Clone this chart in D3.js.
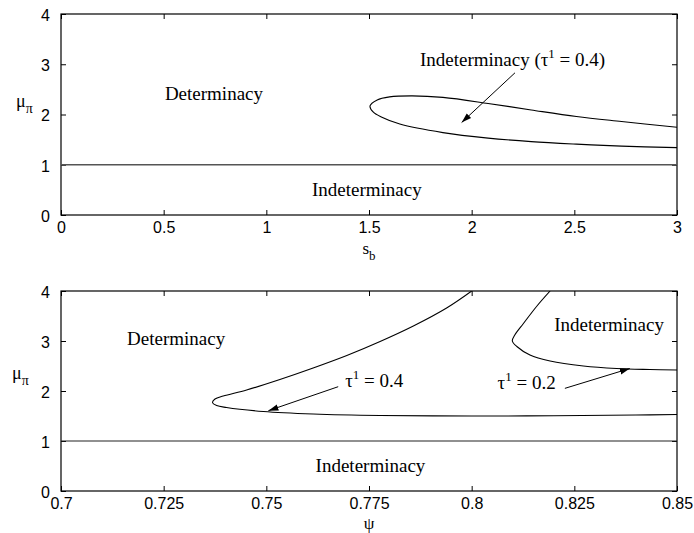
<!DOCTYPE html>
<html>
<head>
<meta charset="utf-8">
<script src="https://cdn.jsdelivr.net/npm/d3@7"></script>
<style>
  html, body { margin: 0; padding: 0; background: #fff; }
  svg { display: block; }
  .tick text { font-family: "Liberation Sans", Arial, sans-serif; font-size: 16px; fill: #000; }
  .ann { font-family: "Liberation Serif", "Times New Roman", serif; font-size: 19px; fill: #000; }
</style>
</head>
<body>
<svg id="chart" width="694" height="533"></svg>
<script>
// ---------- data ----------
const yTicks = [0, 1, 2, 3, 4];
const yTickLabels = ["0", "1", "2", "3", "4"];

// top panel: s_b on x
const topXTicks = [0, 0.5, 1, 1.5, 2, 2.5, 3];
const topXTickLabels = ["0", "0.5", "1", "1.5", "2", "2.5", "3"];
// loop boundary (tau^1 = 0.4): upper branch from right to tip, then lower branch back to right
const topLoopSb = [3.0, 2.73, 2.51, 2.29, 2.08, 1.86, 1.71, 1.60, 1.54, 1.505, 1.52, 1.56, 1.65, 1.86, 2.08, 2.29, 2.51, 2.73, 3.0];
const topLoopMu = [1.745, 1.86, 1.96, 2.09, 2.22, 2.34, 2.37, 2.35, 2.29, 2.17, 2.05, 1.95, 1.81, 1.64, 1.53, 1.46, 1.41, 1.37, 1.34];

// bottom panel: psi on x
const botXTicks = [0.7, 0.725, 0.75, 0.775, 0.8, 0.825, 0.85];
const botXTickLabels = ["0.7", "0.725", "0.75", "0.775", "0.8", "0.825", "0.85"];
// tau^1 = 0.4 boundary
const tau04Psi = [0.8, 0.7939, 0.7858, 0.7777, 0.7696, 0.7614, 0.7533, 0.7452, 0.7395, 0.7375, 0.7369, 0.7379, 0.7403, 0.7493, 0.7614, 0.7777, 0.80, 0.82, 0.84, 0.85];
const tau04Mu  = [4.0, 3.66, 3.30, 2.99, 2.71, 2.46, 2.23, 2.02, 1.90, 1.84, 1.77, 1.71, 1.67, 1.59, 1.54, 1.51, 1.50, 1.505, 1.52, 1.53];
// tau^1 = 0.2 boundary
const tau02Psi = [0.8191, 0.8158, 0.8126, 0.8105, 0.8099, 0.811, 0.8142, 0.8191, 0.8272, 0.8353, 0.8434, 0.85];
const tau02Mu  = [4.0, 3.69, 3.35, 3.12, 3.0, 2.89, 2.72, 2.60, 2.50, 2.45, 2.43, 2.42];

// determinacy boundary mu_pi = 1
const boundaryMu = 1;

// ---------- drawing ----------
const svg = d3.select("#chart");
const tickLen = 5;

function panel(cfg) {
  const { left, right, top, bottom, xDomain, xTicks, xLabels, id } = cfg;
  const x = d3.scaleLinear().domain(xDomain).range([left, right]);
  const y = d3.scaleLinear().domain([0, 4]).range([bottom, top]);
  const g = svg.append("g");

  g.append("clipPath").attr("id", id).append("rect")
    .attr("x", left).attr("y", top).attr("width", right - left).attr("height", bottom - top);

  const ax = g.append("g").attr("transform", `translate(0,${bottom})`)
    .call(d3.axisBottom(x).tickValues(xTicks).tickFormat((d, i) => xLabels[i])
      .tickSizeInner(-tickLen).tickSizeOuter(0).tickPadding(8));
  ax.select(".domain").remove();
  ax.selectAll(".tick line").attr("stroke", "#000");
  ax.selectAll(".tick text").attr("dy", "0.71em").attr("y", 7);

  const axT = g.append("g").attr("transform", `translate(0,${top})`)
    .call(d3.axisTop(x).tickValues(xTicks).tickFormat("").tickSizeInner(-tickLen).tickSizeOuter(0));
  axT.select(".domain").remove();

  const ay = g.append("g").attr("transform", `translate(${left},0)`)
    .call(d3.axisLeft(y).tickValues(yTicks).tickFormat((d, i) => yTickLabels[i])
      .tickSizeInner(-tickLen).tickSizeOuter(0).tickPadding(11));
  ay.select(".domain").remove();
  ay.selectAll(".tick text").attr("dy", "0.4em");

  const ayR = g.append("g").attr("transform", `translate(${right},0)`)
    .call(d3.axisRight(y).tickValues(yTicks).tickFormat("").tickSizeInner(-tickLen).tickSizeOuter(0));
  ayR.select(".domain").remove();

  g.append("rect").attr("x", left).attr("y", top)
    .attr("width", right - left).attr("height", bottom - top)
    .attr("fill", "none").attr("stroke", "#000").attr("stroke-width", 1.2);

  return { g, x, y, clip: `url(#${id})` };
}

const defs = svg.append("defs");
defs.append("marker").attr("id", "arrow")
  .attr("viewBox", "-10 -5 10 10").attr("refX", 0).attr("refY", 0)
  .attr("markerWidth", 10).attr("markerHeight", 10)
  .attr("markerUnits", "userSpaceOnUse").attr("orient", "auto")
  .append("path").attr("d", "M0,0 L-10,-3.2 L-10,3.2 Z").attr("fill", "#000");

function arrow(p, x1, y1, x2, y2) {
  p.g.append("line")
    .attr("x1", p.x(x1)).attr("y1", p.y(y1))
    .attr("x2", p.x(x2)).attr("y2", p.y(y2))
    .attr("stroke", "#000").attr("stroke-width", 1)
    .attr("marker-end", "url(#arrow)");
}

function muLabel(xPx, yPx) {
  const t = svg.append("text")
    .attr("x", xPx).attr("y", yPx)
    .attr("font-family", "'Liberation Serif', serif").attr("font-size", 18);
  t.append("tspan").text("μ");
  t.append("tspan").attr("dy", 6).attr("font-size", 14).text("π");
}

const line = (p) => d3.line().x(d => p.x(d[0])).y(d => p.y(d[1])).curve(d3.curveCatmullRom.alpha(0.5));

// ===== Top panel =====
const P1 = panel({ left: 61, right: 677, top: 14, bottom: 215, xDomain: [0, 3],
  xTicks: topXTicks, xLabels: topXTickLabels, id: "clip1" });

P1.g.append("line")
  .attr("x1", P1.x(0)).attr("x2", P1.x(3))
  .attr("y1", P1.y(boundaryMu)).attr("y2", P1.y(boundaryMu))
  .attr("stroke", "#555").attr("stroke-width", 1.6);

P1.g.append("path")
  .datum(topLoopSb.map((s, i) => [s, topLoopMu[i]]))
  .attr("d", line(P1)).attr("fill", "none").attr("stroke", "#000").attr("stroke-width", 1.1)
  .attr("clip-path", P1.clip);

P1.g.append("text").attr("class", "ann").attr("x", P1.x(0.506)).attr("y", P1.y(2.29)).text("Determinacy");
P1.g.append("text").attr("class", "ann").attr("x", P1.x(1.222)).attr("y", P1.y(0.378)).text("Indeterminacy");
{
  const t = P1.g.append("text").attr("class", "ann").attr("x", P1.x(1.748)).attr("y", P1.y(2.965));
  t.append("tspan").text("Indeterminacy (τ");
  t.append("tspan").attr("dy", -8).attr("font-size", 13).text("1");
  t.append("tspan").attr("dy", 8).text(" = 0.4)");
}
arrow(P1, 2.211, 2.83, 1.951, 1.84);

svg.append("text").attr("x", 369).attr("y", 254)
  .attr("font-family", "'Liberation Serif', serif").attr("font-size", 17)
  .attr("text-anchor", "middle")
  .call(t => { t.append("tspan").text("s"); t.append("tspan").attr("dy", 6).attr("font-size", 13).text("b"); });
muLabel(16, 107);

// ===== Bottom panel =====
const P2 = panel({ left: 61, right: 677, top: 291, bottom: 491, xDomain: [0.7, 0.85],
  xTicks: botXTicks, xLabels: botXTickLabels, id: "clip2" });

P2.g.append("line")
  .attr("x1", P2.x(0.7)).attr("x2", P2.x(0.85))
  .attr("y1", P2.y(boundaryMu)).attr("y2", P2.y(boundaryMu))
  .attr("stroke", "#222").attr("stroke-width", 1.2);

P2.g.append("path")
  .datum(tau04Psi.map((s, i) => [s, tau04Mu[i]]))
  .attr("d", line(P2)).attr("fill", "none").attr("stroke", "#000").attr("stroke-width", 1.1)
  .attr("clip-path", P2.clip);
P2.g.append("path")
  .datum(tau02Psi.map((s, i) => [s, tau02Mu[i]]))
  .attr("d", line(P2)).attr("fill", "none").attr("stroke", "#000").attr("stroke-width", 1.1)
  .attr("clip-path", P2.clip);

P2.g.append("text").attr("class", "ann").attr("x", P2.x(0.7161)).attr("y", P2.y(2.92)).text("Determinacy");
P2.g.append("text").attr("class", "ann").attr("x", P2.x(0.8201)).attr("y", P2.y(3.206)).text("Indeterminacy");
P2.g.append("text").attr("class", "ann").attr("x", P2.x(0.762)).attr("y", P2.y(0.386)).text("Indeterminacy");
{
  const t = P2.g.append("text").attr("class", "ann").attr("x", P2.x(0.7692)).attr("y", P2.y(2.074));
  t.append("tspan").text("τ");
  t.append("tspan").attr("dy", -8).attr("font-size", 13).text("1");
  t.append("tspan").attr("dy", 8).text(" = 0.4");
}
{
  const t = P2.g.append("text").attr("class", "ann").attr("x", P2.x(0.8063)).attr("y", P2.y(2.04));
  t.append("tspan").text("τ");
  t.append("tspan").attr("dy", -8).attr("font-size", 13).text("1");
  t.append("tspan").attr("dy", 8).text(" = 0.2");
}
arrow(P2, 0.7675, 2.086, 0.7505, 1.606);
arrow(P2, 0.8227, 2.053, 0.8385, 2.45);

svg.append("text").attr("x", 369).attr("y", 529)
  .attr("font-family", "'Liberation Serif', serif").attr("font-size", 17)
  .attr("text-anchor", "middle").text("ψ");
muLabel(12, 379);
</script>
</body>
</html>
